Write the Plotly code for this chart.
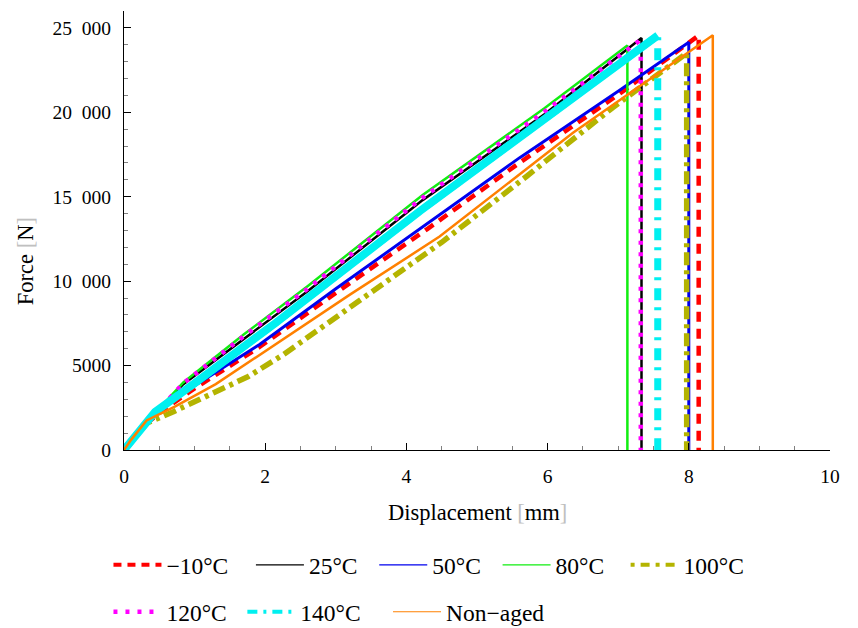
import plotly.graph_objects as go

# ---------------- data ----------------
names = ["\u221210\u00b0C", "25\u00b0C", "50\u00b0C", "80\u00b0C", "100\u00b0C",
         "120\u00b0C", "140\u00b0C", "Non\u2212aged"]

disp_m10 = [0, 0.1, 0.3, 0.55, 1.0, 1.92, 3.0, 4.3, 5.6, 7.02, 8.14, 8.14]
force_m10 = [0, 550, 1500, 2350, 3650, 6100, 9300, 13100, 17000, 21100, 24550, 0]

disp_25 = [0, 0.12, 0.3, 0.84, 1.7, 2.6, 4.23, 5.96, 7.33, 7.33]
force_25 = [0, 600, 1500, 3900, 6600, 9400, 14800, 19900, 24400, 0]

disp_50 = [0, 0.1, 0.3, 0.53, 1.0, 1.92, 3.0, 4.3, 5.6, 7.02, 8.0, 8.0]
force_50 = [0, 600, 1600, 2490, 3800, 6250, 9550, 13400, 17300, 21300, 24150, 0]

disp_80 = [0, 0.12, 0.3, 0.84, 1.7, 2.6, 4.23, 5.96, 7.13, 7.13]
force_80 = [0, 620, 1550, 4000, 6850, 9700, 15100, 20250, 23950, 0]

disp_100 = [0, 0.1, 0.32, 0.7, 1.05, 1.38, 1.76, 2.25, 3.4, 4.5, 5.7, 6.92, 7.97, 7.97]
force_100 = [0, 480, 1580, 2270, 2960, 3560, 4350, 5630, 9050, 12300, 16200, 20270, 23500, 0]

disp_120 = [0, 0.12, 0.3, 0.84, 1.7, 2.6, 4.23, 5.96, 7.32, 7.32]
force_120 = [0, 600, 1500, 3950, 6750, 9550, 14950, 20050, 24300, 0]

disp_140 = [0, 0.1, 0.25, 0.44, 1.0, 2.14, 4.19, 5.8, 7.56, 7.56]
force_140 = [0, 500, 1300, 2250, 3950, 7500, 14150, 19100, 24550, 0]

disp_na = [0, 0.1, 0.32, 0.72, 1.3, 1.92, 3.2, 4.47, 6.36, 8.34, 8.34]
force_na = [0, 600, 1750, 2570, 3900, 5630, 9200, 12640, 18790, 24560, 0]

x_ticks = [0, 2, 4, 6, 8, 10]
y_ticks = [0, 5000, 10000, 15000, 20000, 25000]
y_tick_text = ["0", "5000", "10\u2002000", "15\u2002000", "20\u2002000", "25\u2002000"]
y_grid = [5000, 10000, 15000, 20000]

# ---------------- styles ----------------
FONT = "Liberation Serif, Times New Roman, serif"
RED = "#ff0000"
BLACK = "#000000"
BLUE = "#0000ee"
GREEN = "#11ee11"
OLIVE = "#b4b400"
MAGENTA = "#ff00ff"
CYAN = "#00f0f0"
ORANGE = "#ff8000"

fig = go.Figure()

def curve(x, y, color, width, dash="solid"):
    fig.add_trace(go.Scatter(x=x, y=y, mode="lines", showlegend=False,
                             hoverinfo="skip",
                             line=dict(color=color, width=width, dash=dash)))

# plot curves (drawing order as in legend)
curve(disp_m10, force_m10, RED, 4.5, "10px,7px")
curve(disp_25, force_25, BLACK, 2.5)
curve(disp_50, force_50, BLUE, 3)
curve(disp_80, force_80, GREEN, 2.5)
curve(disp_100, force_100, OLIVE, 5.5, "13px,5px,4px,5px")
curve(disp_120, force_120, MAGENTA, 4.5, "4px,7.5px")
curve(disp_140, force_140, CYAN, 7, "12px,7px,3px,8px")
curve(disp_140[:-1], force_140[:-1], CYAN, 8)
curve(disp_na, force_na, ORANGE, 2.5)

# legend entries (trailing spaces only widen the gap to the next entry)
NB, TH = "\u00a0", "\u2009"
pads = [NB * 3, NB * 2, NB * 2, NB * 2 + TH, "",
        NB + TH, NB * 3 + TH, ""]
leg_styles = [
    (RED, 4, "8px,6px"), (BLACK, 1.2, "solid"), (BLUE, 1.2, "solid"),
    (GREEN, 1.2, "solid"), (OLIVE, 4, "4px,6px,9px,6px"),
    (MAGENTA, 4.5, "4px,8px"), (CYAN, 4, "10px,6px,3px,6px"),
    (ORANGE, 1.2, "solid"),
]
for i, (nm, pad, (c, w, d)) in enumerate(zip(names, pads, leg_styles)):
    fig.add_trace(go.Scatter(x=[None], y=[None], mode="lines", name=nm + pad,
                             legend="legend" if i < 5 else "legend2",
                             line=dict(color=c, width=w, dash=d)))

axis_common = dict(showline=True, linecolor="black", linewidth=1.2,
                   ticks="inside", tickcolor="black", ticklen=7, tickwidth=1.1,
                   showgrid=False, zeroline=False, automargin=False,
                   tickfont=dict(family=FONT, size=19.5, color="black"))

# the page body adds an 8px offset, so the figure is 8px smaller than the window
fig.update_layout(
    width=850, height=620,
    margin=dict(l=116, r=28, t=3, b=178, autoexpand=False),
    plot_bgcolor="white", paper_bgcolor="white",
    font=dict(family=FONT, color="black"),
    xaxis=dict(range=[0, 10], tickmode="array", tickvals=x_ticks,
               minor=dict(ticks="inside", ticklen=4, tickcolor="#808080",
                          tickmode="linear", tick0=0, dtick=0.5),
               ticklabelstandoff=8, **axis_common),
    yaxis=dict(range=[0, 26000], tickmode="array", tickvals=y_ticks,
               ticktext=y_tick_text,
               minor=dict(ticks="inside", ticklen=4, tickcolor="#808080",
                          tickmode="linear", tick0=0, dtick=1000),
               ticklabelstandoff=8, **axis_common),
    yaxis2=dict(range=[0, 26000], overlaying="y", tickmode="array",
                tickvals=y_grid, showgrid=True, gridcolor="#a6a6a6",
                gridwidth=1.3, showticklabels=False, ticks="",
                showline=False, zeroline=False),
    legend=dict(orientation="h", x=-0.022, xanchor="left", y=-0.262,
                yanchor="middle", itemwidth=48,
                font=dict(family=FONT, size=23.5, color="black")),
    legend2=dict(orientation="h", x=-0.022, xanchor="left", y=-0.369,
                 yanchor="middle", itemwidth=48,
                 font=dict(family=FONT, size=23.5, color="black")),
    annotations=[
        dict(text="Displacement <span style='color:#c0c0c0'>[</span>mm<span style='color:#c0c0c0'>]</span>",
             xref="paper", yref="paper", x=0.5, y=-0.1435,
             xanchor="center", yanchor="middle", showarrow=False,
             font=dict(family=FONT, size=22.5, color="black")),
        dict(text="Force <span style='color:#c0c0c0'>[</span>N<span style='color:#c0c0c0'>]</span>",
             xref="paper", yref="paper", x=-0.14, y=0.4305, textangle=-90,
             xanchor="center", yanchor="middle", showarrow=False,
             font=dict(family=FONT, size=22.5, color="black")),
    ],
)

fig.write_html("out.html")
